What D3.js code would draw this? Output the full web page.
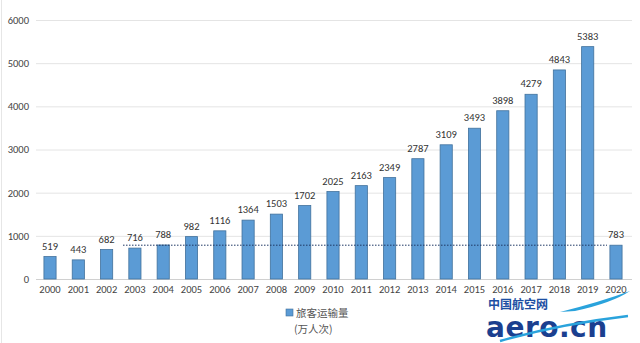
<!DOCTYPE html>
<html><head><meta charset="utf-8">
<script src="https://cdn.jsdelivr.net/npm/d3@7"></script>
<style>body{margin:0;background:#fff;}svg{display:block;font-family:Carlito,"Liberation Sans","Noto Sans CJK SC",sans-serif;}</style>
</head><body><svg id="c" width="640" height="343"></svg>
<script>
const years = ["2000","2001","2002","2003","2004","2005","2006","2007","2008","2009","2010","2011","2012","2013","2014","2015","2016","2017","2018","2019","2020"];
const passengers = [519,443,682,716,788,982,1116,1364,1503,1702,2025,2163,2349,2787,3109,3493,3898,4279,4843,5383,783];
const yTicks = [0,1000,2000,3000,4000,5000,6000];
const refValue = 783;
const legendLines = ["旅客运输量","(万人次)"];

const svg = d3.select("#c");
const x = d3.scaleBand().domain(years).range([36,630]).paddingInner(0.57).paddingOuter(0.28);
const y = d3.scaleLinear().domain([0,6000]).range([279,20]);

svg.append("line").attr("x1",1.5).attr("x2",1.5).attr("y1",0).attr("y2",343).attr("stroke","#e6e6e6");

svg.append("g").selectAll("line").data(yTicks).join("line")
  .attr("x1",36).attr("x2",632).attr("y1",d=>y(d)+0.5).attr("y2",d=>y(d)+0.5)
  .attr("stroke",d=>d===0?"#d0d0d0":"#e4e4e4").attr("stroke-width",1);

const ya = svg.append("g").attr("transform","translate(29,0)")
  .call(d3.axisLeft(y).tickValues(yTicks).tickFormat(d3.format("d")).tickSize(0).tickPadding(0));
ya.select(".domain").remove();
ya.selectAll("text").attr("font-size",10.5).attr("fill","#444").attr("font-family","Carlito,'Liberation Sans',sans-serif");

const xa = svg.append("g").attr("transform","translate(0,286)")
  .call(d3.axisBottom(x).tickSize(0).tickPadding(0));
xa.select(".domain").remove();
xa.selectAll("text").attr("font-size",10.5).attr("fill","#444").attr("dy","0.71em").attr("font-family","Carlito,'Liberation Sans',sans-serif");

svg.append("g").selectAll("rect").data(years).join("rect")
  .attr("x",(d)=>x(d)).attr("width",x.bandwidth())
  .attr("y",(d,i)=>y(passengers[i])).attr("height",(d,i)=>y(0)-y(passengers[i]))
  .attr("fill","#5b9bd5").attr("stroke","#41719c").attr("stroke-width",0.8);

svg.append("line").attr("x1",123).attr("x2",607)
  .attr("y1",y(refValue)).attr("y2",y(refValue))
  .attr("stroke","#1f3864").attr("stroke-width",1).attr("stroke-dasharray","1.5,1.5");

svg.append("g").selectAll("text").data(years).join("text")
  .attr("x",d=>x(d)+x.bandwidth()/2).attr("y",(d,i)=>y(passengers[i])-7)
  .attr("text-anchor","middle").attr("font-size",10.5).attr("fill","#333")
  .text((d,i)=>passengers[i]);

svg.append("rect").attr("x",286).attr("y",309).attr("width",7).attr("height",7)
  .attr("fill","#5b9bd5").attr("stroke","#41719c").attr("stroke-width",0.6);
svg.append("g").selectAll("text").data(legendLines).join("text")
  .attr("x",(d,i)=>i===0?296:294).attr("y",(d,i)=>317+i*16)
  .attr("font-size",10.5).attr("fill","#555").attr("font-family","'Noto Sans CJK SC',sans-serif")
  .text(d=>d);

// watermark
const wm = svg.append("g");
wm.append("text").attr("x",488).attr("y",309).attr("font-size",12).attr("font-weight","bold")
  .attr("fill","#1d4fa3").attr("font-family","'Noto Sans CJK SC',sans-serif").text("中国航空网");
wm.append("path").attr("d","M560,312 Q600,302 630,291 Q612,303 575,311 Z").attr("fill","#2aa3dc");
wm.append("text").attr("x",486).attr("y",337).attr("font-size",28).attr("font-weight","bold")
  .attr("fill","#1b3f8f").attr("font-family","'DejaVu Sans',sans-serif").attr("letter-spacing",0.5).text("aero.cn");
wm.append("path").attr("d","M500,341 Q560,324 628,316").attr("fill","none").attr("stroke","#2aa3dc").attr("stroke-width",2.5);
</script></body></html>
